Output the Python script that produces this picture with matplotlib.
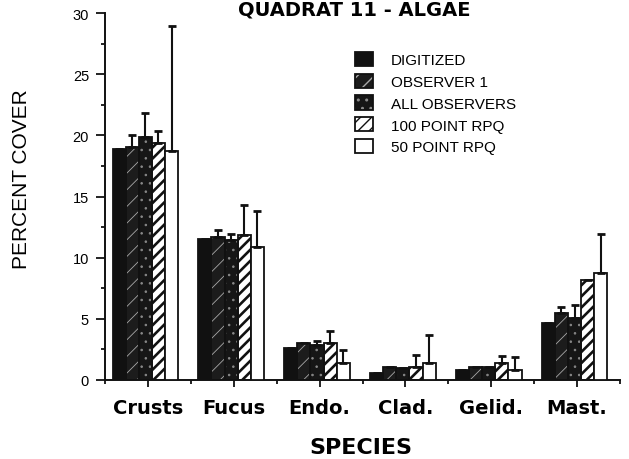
import numpy as np
import matplotlib
matplotlib.use("Agg")
import matplotlib.pyplot as plt
from matplotlib.patches import Patch
from matplotlib.legend_handler import HandlerTuple

# ---------------- data ----------------
categories = ["Crusts", "Fucus", "Endo.", "Clad.", "Gelid.", "Mast."]
series_names = ["DIGITIZED", "OBSERVER 1", "ALL OBSERVERS", "100 POINT RPQ", "50 POINT RPQ"]

digitized      = [18.9, 11.55, 2.65, 0.6, 0.8, 4.7]
observer1      = [19.05, 11.7, 3.05, 1.05, 1.05, 5.45]
all_observers  = [19.85, 11.45, 2.9, 1.0, 1.05, 5.1]
rpq100         = [19.35, 11.85, 3.0, 1.05, 1.35, 8.15]
rpq50          = [18.7, 10.85, 1.35, 1.35, 0.8, 8.75]

# upper ends of the error bars (nan = no error bar drawn)
nan = np.nan
digitized_top     = [nan, nan, nan, nan, nan, nan]
observer1_top     = [20.0, 12.25, nan, nan, nan, 6.0]
all_observers_top = [21.85, 11.95, 3.2, nan, nan, 6.1]
rpq100_top        = [20.35, 14.3, 4.0, 2.05, 1.95, nan]
rpq50_top         = [28.9, 13.8, 2.45, 3.65, 1.9, 11.9]

values = [digitized, observer1, all_observers, rpq100, rpq50]
tops = [digitized_top, observer1_top, all_observers_top, rpq100_top, rpq50_top]

y_ticks = [0, 5, 10, 15, 20, 25, 30]
title = "QUADRAT 11 - ALGAE"

# ---------------- styles ----------------
# (facecolor, hatch, hatchcolor, hatch linewidth)
styles = [
    ("#111111", None, None, 1.0),
    ("#1c1c1c", "//", "#a8a8a8", 0.6),
    ("#161616", "..", "#8a8a8a", 0.6),
    ("white", "///", "#111111", 1.9),
    ("white", None, None, 1.0),
]

fig = plt.figure(figsize=(6.29, 4.6), dpi=100)
ax = fig.add_axes([105/629, (460-381)/460, (620-105)/629, (381-14)/460])

x = np.arange(len(categories))
w = 0.153
shift = -0.03

handles = []
for i, (vals, tp, st) in enumerate(zip(values, tops, styles)):
    fc, hatch, hc, hlw = st
    pos = x + (i - 2) * w + shift
    vals = np.array(vals, dtype=float)
    if hatch is not None:
        with plt.rc_context({"hatch.linewidth": hlw}):
            ax.bar(pos, vals, w, facecolor=fc, edgecolor=hc, hatch=hatch,
                   linewidth=0, zorder=2)
        ax.bar(pos, vals, w, fill=False, edgecolor="#111111", linewidth=1.3, zorder=3)
        with plt.rc_context({"hatch.linewidth": hlw}):
            h1 = Patch(facecolor=fc, edgecolor=hc, hatch=hatch, linewidth=0)
        h2 = Patch(fill=False, edgecolor="#111111", linewidth=1.3)
        handles.append((h1, h2))
    else:
        ax.bar(pos, vals, w, facecolor=fc, edgecolor="#111111", linewidth=1.3, zorder=3)
        handles.append(Patch(facecolor=fc, edgecolor="#111111", linewidth=1.3))
    err = np.array(tp, dtype=float) - vals
    ax.errorbar(pos, vals, yerr=[np.zeros_like(err), err], fmt="none",
                ecolor="#111111", elinewidth=1.5, capsize=2.6, capthick=2.0, zorder=4)

ax.set_xlim(-0.5, 5.5)
ax.set_ylim(0, 30)
for s in ["top", "right"]:
    ax.spines[s].set_visible(False)
for s in ["left", "bottom"]:
    ax.spines[s].set_linewidth(1.4)
    ax.spines[s].set_color("#111111")

ax.set_yticks(y_ticks)
ax.set_yticks(np.arange(0, 30.1, 2.5), minor=True)
ax.set_xticks(x)
ax.set_xticks(np.arange(-0.5, 5.6, 1.0), minor=True)
ax.set_xticklabels(categories, fontsize=14, fontweight="bold", family="DejaVu Sans")
ax.set_yticklabels([str(t) for t in y_ticks], fontsize=10.5, family="Liberation Sans")
ax.tick_params(axis="y", which="major", length=6.5, width=1.3, pad=5, color="#111111")
ax.tick_params(axis="y", which="minor", length=3, width=1.3, color="#111111")
ax.tick_params(axis="x", which="major", length=5, width=1.3, pad=8, color="#111111")
ax.tick_params(axis="x", which="minor", length=3, width=1.3, color="#111111")

ax.set_ylabel("PERCENT COVER", fontsize=15, family="Liberation Sans")
ax.yaxis.set_label_coords(-0.143, 0.55)

fig.text(361/629, 1 - 448/460, "SPECIES", fontsize=16, fontweight="bold",
         family="DejaVu Sans", ha="center", va="center")
fig.text(354/629, 1 - 1/460, title, fontsize=14, fontweight="bold",
         family="DejaVu Sans", ha="center", va="top")

leg = ax.legend(handles, series_names, handler_map={tuple: HandlerTuple(ndivide=1, pad=0)},
                loc="upper left", bbox_to_anchor=((352 - 105)/515, (381 - 50)/367),
                frameon=False, prop={"family": "Liberation Sans", "size": 11},
                handlelength=1.15, handleheight=1.05, handletextpad=1.2,
                labelspacing=0.42, borderaxespad=0, borderpad=0.2)

fig.savefig("out.png", dpi=100)
